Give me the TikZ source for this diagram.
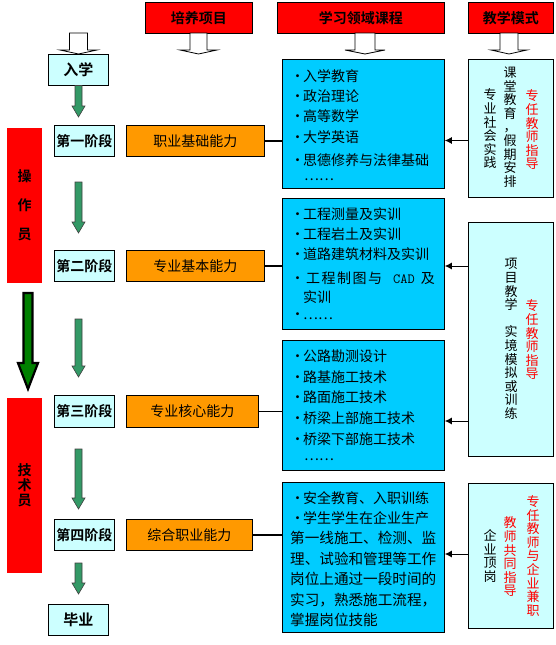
\documentclass[tikz,border=0pt]{standalone}
\usepackage{fontspec}
\setmainfont{Noto Sans CJK SC}[BoldFont={Noto Sans CJK SC Bold}]
\usetikzlibrary{arrows.meta}
\definecolor{hdrred}{RGB}{255,0,0}
\definecolor{stagecyan}{RGB}{204,255,255}
\definecolor{coursecyan}{RGB}{0,204,255}
\definecolor{abilityorange}{RGB}{255,153,0}
\definecolor{arrowgreen}{RGB}{51,153,102}
\definecolor{biggreen}{RGB}{0,128,0}
\newcommand\hollowarrow[6]{%
  \draw[hollow] ({#1-#5},#2) -- ({#1-#5},#3) -- ({#1-#6},#3) -- (#1,#4)
    -- ({#1+#6},#3) -- ({#1+#5},#3) -- ({#1+#5},#2) -- cycle;}
\newcommand\greenarrow[3]{%
  \draw[garrow] ({#1-3.5},#2) -- ({#1-3.5},{#3-11}) -- ({#1-6.5},{#3-11}) -- (#1,#3)
    -- ({#1+6.5},{#3-11}) -- ({#1+3.5},{#3-11}) -- ({#1+3.5},#2) -- cycle;}
\tikzset{
  boxbase/.style={draw=black,line width=0.8pt,inner sep=0pt,anchor=north west},
  header/.style={boxbase,fill=hdrred,font=\bfseries\fontsize{14}{14}\selectfont},
  stagebox/.style={boxbase,fill=stagecyan,font=\bfseries\fontsize{14}{14}\selectfont},
  ability/.style={boxbase,fill=abilityorange,font=\fontsize{14}{14}\selectfont},
  course/.style={boxbase,fill=coursecyan},
  mode/.style={boxbase,fill=stagecyan},
  sidebox/.style={inner sep=0pt,anchor=north west,fill=hdrred,align=center},
  ctext/.style={anchor=west,inner sep=0pt,font=\fontsize{14}{14}\selectfont},
  vtext/.style={inner sep=0pt,align=center,font=\fontsize{13}{13.6}\selectfont},
  hollow/.style={draw=black,line width=0.8pt,fill=white},
  garrow/.style={draw=black!75,line width=0.6pt,fill=arrowgreen},
  link/.style={draw=black,line width=1.6pt},
  modearrow/.style={draw=black,line width=1pt,-{Latex[length=7pt,width=7pt]}},
}
\newcommand\bul{\makebox[11pt][c]{·}}
\begin{document}
\begin{tikzpicture}[x=1pt,y=-1pt]
\useasboundingbox[fill=white] (0,0) rectangle (555,645);

% headers
\node[header,minimum width=107pt,minimum height=31pt] (h1) at (145,2) {培养项目};
\node[header,minimum width=167pt,minimum height=31pt] (h2) at (277,2) {学习领域课程};
\node[header,minimum width=85pt,minimum height=31pt] (h3) at (468,2) {教学模式};

% hollow arrows
\hollowarrow{78.5}{33}{50}{54}{9}{18.5}
\hollowarrow{198.5}{33}{50}{54}{8.5}{18.5}
\hollowarrow{365}{33}{50}{54}{10}{20}
\hollowarrow{509}{33}{50}{54}{9}{18}

% side red boxes
\node[sidebox,minimum width=35pt,minimum height=155pt,font=\bfseries\fontsize{14}{29}\selectfont] (side1) at (7,128) {操\\作\\员};
\node[sidebox,minimum width=35pt,minimum height=175pt,font=\bfseries\fontsize{14}{15}\selectfont] (side2) at (7,398) {技\\术\\员};

% big arrow
\draw[draw=black,line width=2.2pt,fill=biggreen] (23.5,293) -- (23.5,363) -- (18,363) -- (28,389) -- (38,363) -- (32.5,363) -- (32.5,293) -- cycle;

% stages
\node[stagebox,minimum width=60pt,minimum height=31pt,font=\bfseries\fontsize{15}{15}\selectfont] (ruxue) at (48,54) {入学};
\node[stagebox,minimum width=60pt,minimum height=31pt] (s1) at (54,125) {第一阶段};
\node[stagebox,minimum width=60pt,minimum height=31pt] (s2) at (54,250) {第二阶段};
\node[stagebox,minimum width=60pt,minimum height=32pt] (s3) at (54,395) {第三阶段};
\node[stagebox,minimum width=60pt,minimum height=31pt] (s4) at (54,519) {第四阶段};
\node[stagebox,minimum width=60pt,minimum height=31pt,font=\bfseries\fontsize{15}{15}\selectfont] (biye) at (48,604) {毕业};

% green arrows
\greenarrow{78.5}{85.5}{117}
\greenarrow{78.5}{182}{233}
\greenarrow{78.5}{319}{377}
\greenarrow{78.5}{449}{509}
\greenarrow{78.5}{563}{594}

% abilities
\node[ability,minimum width=138pt,minimum height=31pt] (a1) at (126,125) {职业基础能力};
\node[ability,minimum width=138pt,minimum height=31pt] (a2) at (126,250) {专业基本能力};
\node[ability,minimum width=132pt,minimum height=32pt] (a3) at (126,395) {专业核心能力};
\node[ability,minimum width=126pt,minimum height=31pt] (a4) at (126,519) {综合职业能力};

% course boxes
\node[course,minimum width=162pt,minimum height=129pt] (c1) at (282,59) {};
\node[course,minimum width=162pt,minimum height=131pt] (c2) at (282,198) {};
\node[course,minimum width=162pt,minimum height=130pt] (c3) at (282,340) {};
\node[course,minimum width=162pt,minimum height=150pt] (c4) at (282,482) {};

% mode boxes
\node[mode,minimum width=85pt,minimum height=138pt] (m1) at (468,59) {};
\node[mode,minimum width=85pt,minimum height=234pt] (m2) at (468,222) {};
\node[mode,minimum width=85pt,minimum height=145pt] (m3) at (468,483) {};

% links ability -> course
\draw[link] (a1.east) -- (a1.east -| c1.west);
\draw[link] (a2.east) -- (a2.east -| c2.west);
\draw[link] (a3.east) -- (a3.east -| c3.west);
\draw[link] (a4.east) -- (a4.east -| c4.west);

% mode -> course arrows
\coordinate (p1) at (468,140.5);
\coordinate (p2) at (468,266);
\coordinate (p3) at (468,421);
\coordinate (p4) at (468,554);
\draw[modearrow] (p1) -- (p1 -| c1.east);
\draw[modearrow] (p2) -- (p2 -| c2.east);
\draw[modearrow] (p3) -- (p3 -| c3.east);
\draw[modearrow] (p4) -- (p4 -| c4.east);

% course texts 1
\node[ctext] (t11) at (292,76) {\bul 入学教育};
\node[ctext] (t12) at (292,96) {\bul 政治理论};
\node[ctext] (t13) at (292,116) {\bul 高等数学};
\node[ctext] (t14) at (292,137) {\bul 大学英语};
\node[ctext] (t15) at (292,160) {\bul 思德修养与法律基础};
\node[ctext] (t16) at (304,180) {……};

% course texts 2
\node[ctext] (t21) at (292,214) {\bul 工程测量及实训};
\node[ctext] (t22) at (292,234) {\bul 工程岩土及实训};
\node[ctext] (t23) at (292,254) {\bul 道路建筑材料及实训};
\node[ctext] (t24) at (292,278) {\bul\hspace{3pt}工\hspace{1.5pt}程\hspace{1.5pt}制\hspace{1.5pt}图\hspace{1.5pt}与\hspace{11pt}{\ttfamily CAD}\hspace{6pt}及};
\node[ctext] (t25) at (303,297) {实训};
\node[ctext] (t26) at (292,316) {\bul ……};

% course texts 3
\node[ctext] (t31) at (292,356) {\bul 公路勘测设计};
\node[ctext] (t32) at (292,377) {\bul 路基施工技术};
\node[ctext] (t33) at (292,397) {\bul 路面施工技术};
\node[ctext] (t34) at (292,418) {\bul 桥梁上部施工技术};
\node[ctext] (t35) at (292,439) {\bul 桥梁下部施工技术};
\node[ctext] (t36) at (304,460) {……};

% course texts 4
\node[ctext] (t41) at (292,498) {\bul 安全教育、入职训练};
\node[ctext] (t42) at (292,518) {\bul 学生学生在企业生产};
\node[ctext,font=\fontsize{14.6}{14.6}\selectfont] (t43) at (290,538) {第一线施工、检测、监};
\node[ctext,font=\fontsize{14.6}{14.6}\selectfont] (t44) at (290,559) {理、试验和管理等工作};
\node[ctext,font=\fontsize{14.6}{14.6}\selectfont] (t45) at (290,579) {岗位上通过一段时间的};
\node[ctext,font=\fontsize{14.6}{14.6}\selectfont] (t46) at (290,600) {实习，熟悉施工流程，};
\node[ctext,font=\fontsize{14.6}{14.6}\selectfont] (t47) at (290,620) {掌握岗位技能};

% mode texts 1
\node[vtext,text=red] (v11) at (532,130) {专\\任\\教\\师\\指\\导};
\node[vtext] (v12) at (510,127) {课\\堂\\教\\育\\，\\假\\期\\安\\排};
\node[vtext] (v13) at (490,129) {专\\业\\社\\会\\实\\践};

% mode texts 2
\node[vtext] (v21) at (511,339) {项\\目\\教\\学\\[13.6pt]实\\境\\模\\拟\\或\\训\\练};
\node[vtext,text=red] (v22) at (532,340) {专\\任\\教\\师\\指\\导};

% mode texts 3
\node[vtext,text=red] (v31) at (533,556) {专\\任\\教\\师\\与\\企\\业\\兼\\职};
\node[vtext,text=red] (v32) at (510,557) {教\\师\\共\\同\\指\\导};
\node[vtext] (v33) at (490,556) {企\\业\\顶\\岗};
\end{tikzpicture}
\end{document}
